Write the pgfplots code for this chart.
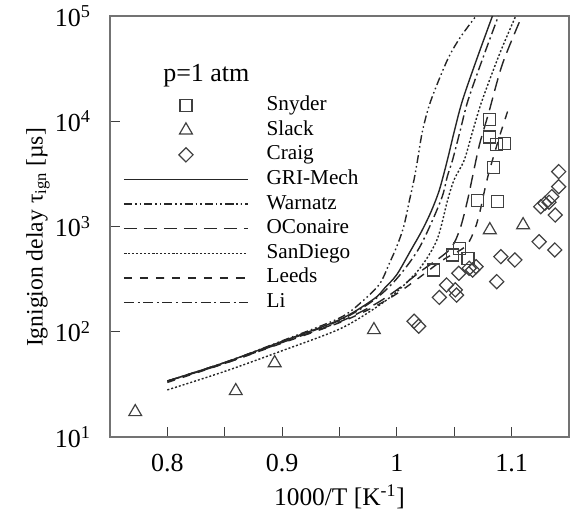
\documentclass[border=0pt]{standalone}
\usepackage{fontspec}
\setmainfont{Liberation Serif}
\usepackage{pgfplots}
\pgfplotsset{compat=1.18}
\pgfplotsset{myleg/.style={legend image code/.code={\draw[mark repeat=2,mark phase=2,##1] plot coordinates {(0pt,0pt) (31pt,0pt) (62pt,0pt)};}}}
\begin{document}
\begin{tikzpicture}
\path[use as bounding box] (0,0) rectangle (286.5pt,256.5pt);
\begin{axis}[
 at={(55pt,38pt)}, anchor=south west, scale only axis, width=229.5pt, height=210.5pt,
 ymode=log, xmin=0.75, xmax=1.15, ymin=10, ymax=100000,
 xtick={0.8,0.9,1.0,1.1}, xticklabels={0.8,0.9,1,1.1},
 minor xtick={0.85,0.95,1.05,1.15},
 ytick={10,100,1000,10000,100000},
 yticklabels={10\textsuperscript{1},10\textsuperscript{2},10\textsuperscript{3},10\textsuperscript{4},10\textsuperscript{5}},
 yminorticks=false,
 xtick pos=bottom, ytick pos=left,
 major tick length=5pt, minor tick length=5pt,
 tick style={black!75, line width=0.6pt},
 axis line style={black!55, line width=0.9pt},
 ticklabel style={font=\fontsize{13}{15}\selectfont},
 yticklabel style={xshift=-6pt},
 xticklabel style={yshift=-5pt},
 xlabel={1000/T [K\textsuperscript{-1}]},
 ylabel={Ignigion delay τ\textsubscript{ign} [µs]},
 xlabel style={font=\fontsize{12.7}{15}\selectfont, at={(axis description cs:0.5,-0.1425)}, anchor=center},
 ylabel style={font=\fontsize{11.8}{14}\selectfont, at={(axis description cs:-0.157,0.474)}, anchor=center, rotate=0},
 legend cell align=left,
 legend style={draw=none, fill=none, inner sep=0pt, font=\fontsize{10.6}{12}\selectfont,
   at={(axis description cs:0.028,0.812)}, anchor=north west,
   column sep=9pt, row sep=2.2pt,
   nodes={inner sep=0pt, text height=7.6pt, text depth=2.5pt}},
]
\node[font=\fontsize{13}{15}\selectfont] at (rel axis cs:0.21,0.858) {p=1 atm};

\addplot[only marks, mark=square, mark size=3pt, mark options={draw=black!75, line width=0.6pt, fill=none}, myleg] coordinates {
(1.081,10400) (1.0804,7080) (1.087,6030) (1.094,6160) (1.084,3620) (1.070,1760) (1.0877,1720) (1.0543,621) (1.0485,536) (1.062,499) (1.032,386)};
\addlegendentry{Snyder}
\addplot[only marks, mark=triangle, mark size=3.7pt, mark options={draw=black!75, line width=0.6pt, fill=none}, myleg] coordinates {
(0.772,17.3) (0.8596,27.4) (0.8935,50.5) (0.98,104) (1.081,927) (1.110,1033)};
\addlegendentry{Slack}
\addplot[only marks, mark=square, mark size=2.5pt, mark options={rotate=45, draw=black!75, line width=0.6pt, fill=none}, myleg] coordinates {
(1.015,126) (1.019,113) (1.037,212) (1.0433,278) (1.0509,250) (1.052,223) (1.054,359) (1.063,401) (1.066,386) (1.069,415) (1.087,299) (1.0906,517) (1.1028,481) (1.124,717) (1.1376,598) (1.1254,1542) (1.129,1660) (1.138,1285) (1.135,1920) (1.141,3320) (1.141,2390) (1.1326,1700)};
\addlegendentry{Craig}

% GRI-Mech
\addplot[black!85, line width=0.7pt, no marks, smooth, myleg] coordinates {
(0.80,34) (0.85,51) (0.90,81) (0.95,130) (0.98,205) (0.99,265) (1.0,350) (1.0123,598) (1.022,920) (1.03,1400) (1.037,2220) (1.044,4270) (1.05,8000) (1.0572,15800) (1.07,40000) (1.0833,100000)};
\addlegendentry{GRI-Mech}
% Warnatz
\addplot[black!85, line width=0.7pt, no marks, smooth, dash pattern=on 4pt off 1.5pt on 0.8pt off 1.5pt on 0.8pt off 1.5pt, myleg] coordinates {
(0.80,34) (0.85,51) (0.90,82) (0.95,135) (0.97,195) (0.985,285) (0.9935,447) (1.0,650) (1.006,1000) (1.011,1780) (1.015,2800) (1.018,4270) (1.0225,8260) (1.0297,15800) (1.044,38200) (1.055,62000) (1.069,100000)};
\addlegendentry{Warnatz}
% OConaire
\addplot[black!85, line width=0.7pt, no marks, smooth, dash pattern=on 6.5pt off 3.5pt, myleg] coordinates {
(0.80,34) (0.85,50) (0.90,79) (0.95,124) (0.98,180) (1.0,250) (1.02,370) (1.0457,600) (1.055,950) (1.0616,1780) (1.066,3000) (1.072,6000) (1.08,12000) (1.092,35000) (1.109,100000)};
\addlegendentry{OConaire}
% SanDiego
\addplot[black!85, line width=0.7pt, no marks, smooth, dash pattern=on 1pt off 1pt, myleg] coordinates {
(0.80,28) (0.85,42) (0.90,66) (0.95,106) (0.98,165) (1.0,240) (1.02,400) (1.035,750) (1.0442,1780) (1.05,2800) (1.0587,4270) (1.066,8000) (1.0743,15800) (1.09,45000) (1.1036,100000)};
\addlegendentry{SanDiego}
% Leeds
\addplot[black!85, line width=0.7pt, no marks, smooth, dash pattern=on 4pt off 4pt, myleg] coordinates {
(0.80,33) (0.85,50) (0.90,78) (0.95,122) (0.98,172) (1.0,230) (1.02,330) (1.04,480) (1.06,650) (1.068,950) (1.0725,1400) (1.076,2100) (1.08,3200) (1.0833,4270) (1.09,7500) (1.0978,13700)};
\addlegendentry{Leeds}
% Li
\addplot[black!85, line width=0.7pt, no marks, smooth, dash pattern=on 5pt off 1.8pt on 1pt off 1.8pt, myleg] coordinates {
(0.80,34) (0.85,51) (0.90,80) (0.95,128) (0.98,200) (1.0,320) (1.02,640) (1.0384,1780) (1.044,3000) (1.0485,4270) (1.055,8000) (1.062,15800) (1.075,40000) (1.0885,100000)};
\addlegendentry{Li}
\end{axis}
\end{tikzpicture}
\end{document}
